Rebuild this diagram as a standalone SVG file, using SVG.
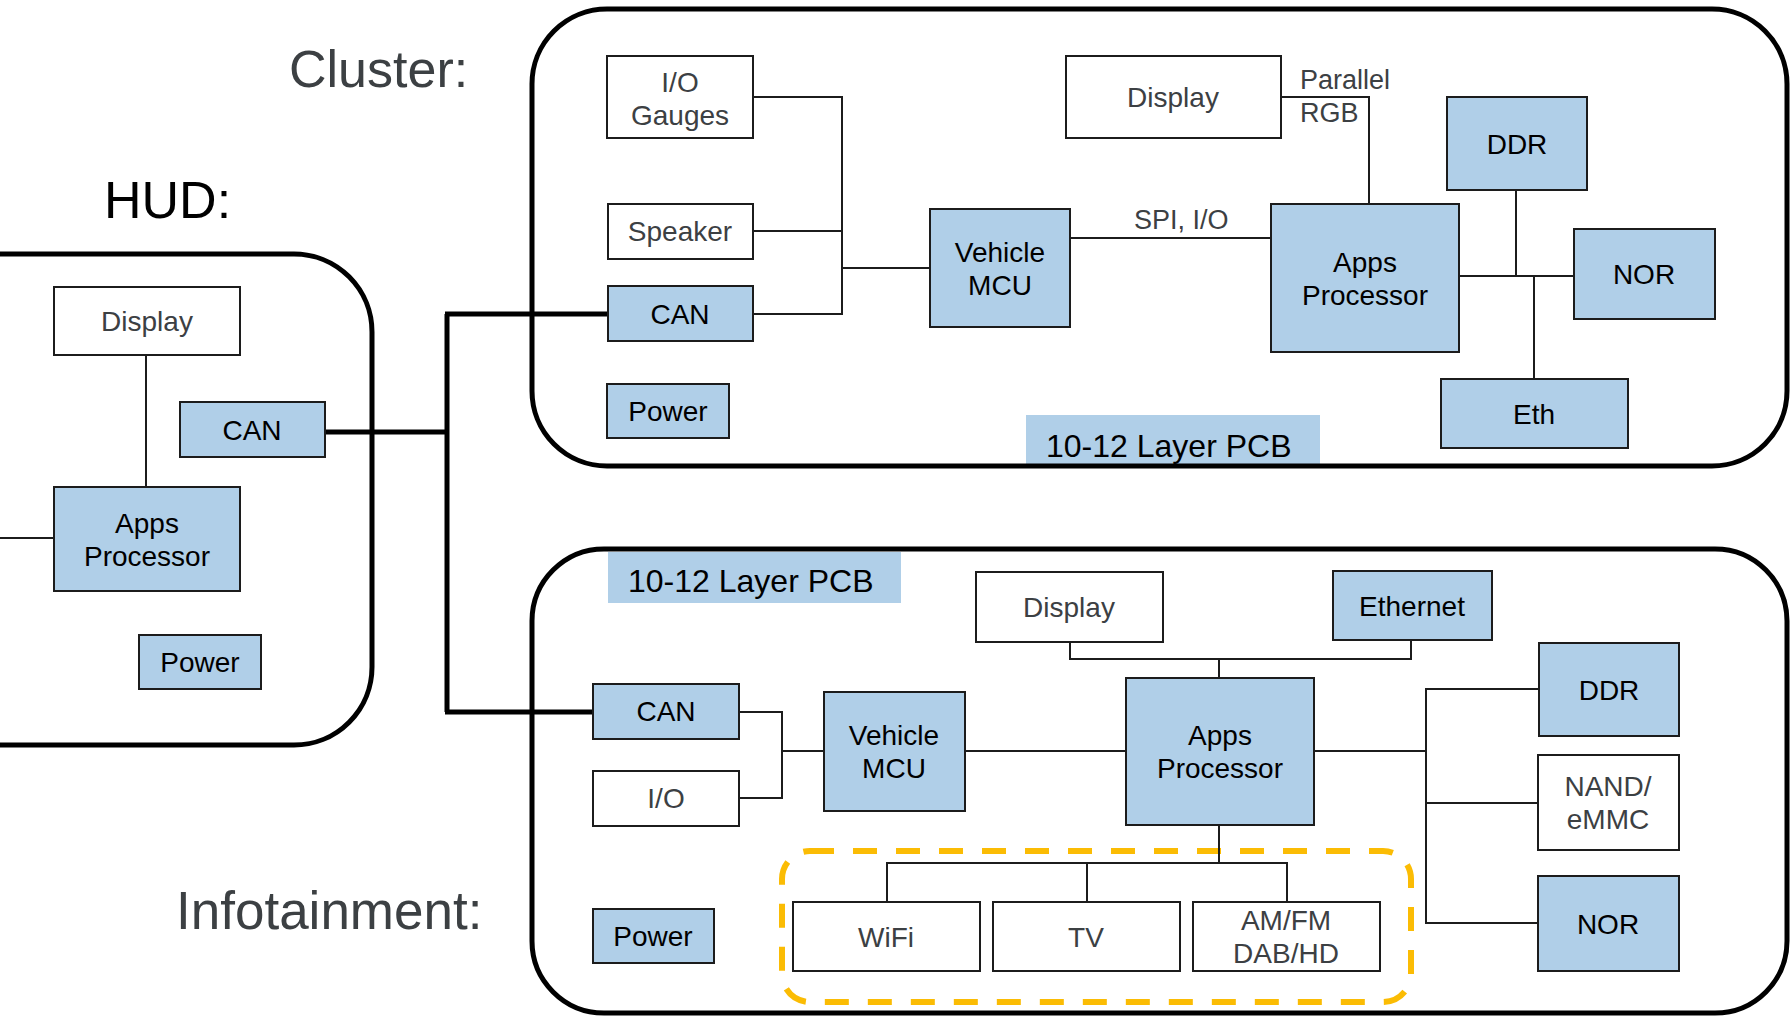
<svg xmlns="http://www.w3.org/2000/svg" width="1792" height="1017" viewBox="0 0 1792 1017">
  <style>
    .frame { fill: none; stroke: #000; stroke-width: 5; }
    .blue rect, rect.blue { fill: #b0cfe8; stroke: #1c1c1c; stroke-width: 2; }
    .white rect { fill: #fff; stroke: #1c1c1c; stroke-width: 2; }
    text { font-family: "Liberation Sans", Arial, Helvetica, sans-serif; }
    .blue text { font-size: 28px; fill: #000; text-anchor: middle; }
    .white text { font-size: 28px; fill: #3c4043; text-anchor: middle; }
    .title { font-size: 52px; fill: #3c4043; }
    .pcb { font-size: 32px; fill: #000; }
    .note { font-size: 27px; fill: #3c4043; }
    #connectors path.thin { fill: none; stroke: #1c1c1c; stroke-width: 2; }
    #connectors path.bus { fill: none; stroke: #000; stroke-width: 5; }
    .radio { fill: none; stroke: #fbbc04; stroke-width: 6; stroke-dasharray: 24 19; }
  </style>

  <rect x="0" y="0" width="1792" height="1017" fill="#fff"/>

  <!-- section titles -->
  <text class="title" x="289" y="87">Cluster:</text>
  <text class="title" x="104" y="218" style="fill:#000">HUD:</text>
  <text class="title" x="176" y="929" style="font-size:53px">Infotainment:</text>

  <!-- board labels -->
  <g id="cluster-pcb">
    <rect class="blue" x="1026" y="415" width="294" height="49" style="stroke:none"/>
    <text class="pcb" x="1046" y="457">10-12 Layer PCB</text>
  </g>
  <g id="infotainment-pcb">
    <rect class="blue" x="608" y="552" width="293" height="51" style="stroke:none"/>
    <text class="pcb" x="628" y="592">10-12 Layer PCB</text>
  </g>

  <!-- module outlines -->
  <g id="hud-board"><rect class="frame" x="-100" y="254" width="472" height="491" rx="78" ry="78"/></g>
  <g id="cluster-board"><rect class="frame" x="532" y="9" width="1255" height="457" rx="75" ry="75"/></g>
  <g id="infotainment-board"><rect class="frame" x="532" y="549" width="1255" height="464" rx="72" ry="72"/></g>

  <!-- radio tuner grouping -->
  <g id="radio-group"><rect class="radio" x="782" y="851" width="629" height="151" rx="28" ry="28"/></g>

  <g id="connectors">
    <!-- HUD -->
    <path class="thin" d="M146 355 V487"/>
    <path class="thin" d="M0 538 H54"/>
    <!-- CAN bus between modules -->
    <path class="bus" d="M325 432 H447"/>
    <path class="bus" d="M447 314 V712"/>
    <path class="bus" d="M445 314 H608"/>
    <path class="bus" d="M445 712 H593"/>
    <!-- Cluster -->
    <path class="thin" d="M753 97 H842 V314 H753"/>
    <path class="thin" d="M753 231 H842"/>
    <path class="thin" d="M842 268 H930"/>
    <path class="thin" d="M1070 238 H1271"/>
    <path class="thin" d="M1281 97 H1369 V204"/>
    <path class="thin" d="M1459 276 H1574"/>
    <path class="thin" d="M1516 190 V276"/>
    <path class="thin" d="M1534 276 V379"/>
    <!-- Infotainment -->
    <path class="thin" d="M739 712 H782 V798 H739"/>
    <path class="thin" d="M782 751 H824"/>
    <path class="thin" d="M965 751 H1126"/>
    <path class="thin" d="M1070 642 V659 H1411 V640"/>
    <path class="thin" d="M1219 659 V678"/>
    <path class="thin" d="M1314 751 H1426"/>
    <path class="thin" d="M1539 689 H1426 V923 H1538"/>
    <path class="thin" d="M1426 803 H1538"/>
    <path class="thin" d="M1219 825 V863"/>
    <path class="thin" d="M887 902 V863 H1287 V902"/>
    <path class="thin" d="M1087 863 V902"/>
  </g>

  <!-- connector labels -->
  <text class="note" x="1134" y="229">SPI, I/O</text>
  <text class="note" x="1300" y="89">Parallel</text>
  <text class="note" x="1300" y="122">RGB</text>

  <!-- HUD nodes -->
  <g id="hud-display" class="white"><rect x="54" y="287" width="186" height="68"/><text x="147" y="331">Display</text></g>
  <g id="hud-can" class="blue"><rect x="180" y="402" width="145" height="55"/><text x="252" y="440">CAN</text></g>
  <g id="hud-apps" class="blue"><rect x="54" y="487" width="186" height="104"/><text x="147" y="533">Apps</text><text x="147" y="566">Processor</text></g>
  <g id="hud-power" class="blue"><rect x="139" y="635" width="122" height="54"/><text x="200" y="672">Power</text></g>

  <!-- Cluster nodes -->
  <g id="cl-io" class="white"><rect x="607" y="56" width="146" height="82"/><text x="680" y="92">I/O</text><text x="680" y="125">Gauges</text></g>
  <g id="cl-speaker" class="white"><rect x="608" y="204" width="145" height="55"/><text x="680" y="241">Speaker</text></g>
  <g id="cl-can" class="blue"><rect x="608" y="286" width="145" height="55"/><text x="680" y="324">CAN</text></g>
  <g id="cl-power" class="blue"><rect x="607" y="384" width="122" height="54"/><text x="668" y="421">Power</text></g>
  <g id="cl-mcu" class="blue"><rect x="930" y="209" width="140" height="118"/><text x="1000" y="262">Vehicle</text><text x="1000" y="295">MCU</text></g>
  <g id="cl-display" class="white"><rect x="1066" y="56" width="215" height="82"/><text x="1173" y="107">Display</text></g>
  <g id="cl-apps" class="blue"><rect x="1271" y="204" width="188" height="148"/><text x="1365" y="272">Apps</text><text x="1365" y="305">Processor</text></g>
  <g id="cl-ddr" class="blue"><rect x="1447" y="97" width="140" height="93"/><text x="1517" y="154">DDR</text></g>
  <g id="cl-nor" class="blue"><rect x="1574" y="229" width="141" height="90"/><text x="1644" y="284">NOR</text></g>
  <g id="cl-eth" class="blue"><rect x="1441" y="379" width="187" height="69"/><text x="1534" y="424">Eth</text></g>

  <!-- Infotainment nodes -->
  <g id="inf-display" class="white"><rect x="976" y="572" width="187" height="70"/><text x="1069" y="617">Display</text></g>
  <g id="inf-ethernet" class="blue"><rect x="1333" y="571" width="159" height="69"/><text x="1412" y="616">Ethernet</text></g>
  <g id="inf-can" class="blue"><rect x="593" y="684" width="146" height="55"/><text x="666" y="721">CAN</text></g>
  <g id="inf-io" class="white"><rect x="593" y="771" width="146" height="55"/><text x="666" y="808">I/O</text></g>
  <g id="inf-mcu" class="blue"><rect x="824" y="692" width="141" height="119"/><text x="894" y="745">Vehicle</text><text x="894" y="778">MCU</text></g>
  <g id="inf-apps" class="blue"><rect x="1126" y="678" width="188" height="147"/><text x="1220" y="745">Apps</text><text x="1220" y="778">Processor</text></g>
  <g id="inf-ddr" class="blue"><rect x="1539" y="643" width="140" height="93"/><text x="1609" y="700">DDR</text></g>
  <g id="inf-nand" class="white"><rect x="1538" y="755" width="141" height="95"/><text x="1608" y="796">NAND/</text><text x="1608" y="829">eMMC</text></g>
  <g id="inf-nor" class="blue"><rect x="1538" y="876" width="141" height="95"/><text x="1608" y="934">NOR</text></g>
  <g id="inf-wifi" class="white"><rect x="793" y="902" width="187" height="69"/><text x="886" y="947">WiFi</text></g>
  <g id="inf-tv" class="white"><rect x="993" y="902" width="187" height="69"/><text x="1086" y="947">TV</text></g>
  <g id="inf-radio" class="white"><rect x="1193" y="902" width="187" height="69"/><text x="1286" y="930">AM/FM</text><text x="1286" y="963">DAB/HD</text></g>
  <g id="inf-power" class="blue"><rect x="593" y="909" width="121" height="54"/><text x="653" y="946">Power</text></g>
</svg>
